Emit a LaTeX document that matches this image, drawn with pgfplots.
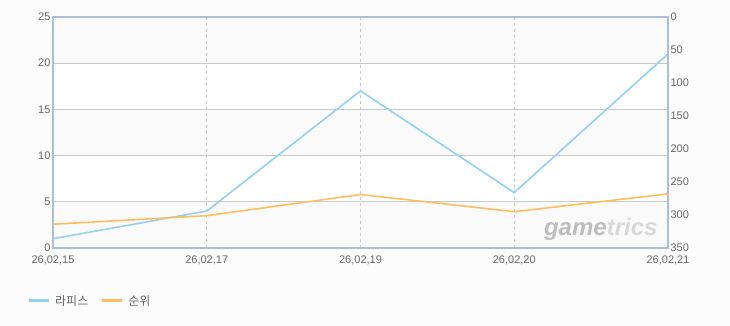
\documentclass[border=0pt]{standalone}
\usepackage{pgfplots}
\pgfplotsset{compat=1.18}
\usepackage{fontspec}
\setmainfont{Liberation Sans}
\newfontfamily\kr{Noto Sans CJK KR}
\definecolor{frame}{HTML}{AABED4}
\definecolor{bg}{HTML}{FCFCFC}
\definecolor{band}{HTML}{FAFAFA}
\definecolor{bluel}{HTML}{94D1F1}
\definecolor{orangel}{HTML}{FFBE5E}
\definecolor{ticktxt}{HTML}{666666}
\definecolor{gridc}{HTML}{C8C8C8}
\begin{document}
\begin{tikzpicture}
\fill[bg] (-53pt,-77pt) rectangle (677pt,248pt);
\useasboundingbox (-53pt,-77pt) rectangle (677pt,248pt);
\fill[white] (0,0) rectangle (615pt,231pt);
\foreach \b in {0,2,4} {\fill[band] (0pt,{\b*46.2pt}) rectangle (615pt,{(\b+1)*46.2pt});}
\node[font=\fontsize{24}{24}\selectfont\bfseries\itshape, anchor=east] at (608pt,19pt) {\textcolor[HTML]{BDBDBD}{game}\textcolor[HTML]{D8D8D8}{trics}};
\begin{axis}[
  at={(0,0)}, anchor=south west, scale only axis,
  width=615pt, height=231pt,
  xmin=0, xmax=4, ymin=0, ymax=25,
  xtick={0,1,2,3,4},
  xticklabels={{26,02,15},{26,02,17},{26,02,19},{26,02,20},{26,02,21}},
  ytick={0,5,10,15,20,25},
  major tick length=0pt,
  axis line style={draw=frame, line width=1.6pt},
  xmajorgrids, ymajorgrids,
  x grid style={dashed, gridc, line width=0.6pt},
  y grid style={gridc, line width=0.8pt},
  ticklabel style={font=\fontsize{11}{12}\selectfont, text=ticktxt},
  /pgf/number format/assume math mode=true,
  xticklabel style={yshift=-4pt},
  yticklabel style={xshift=1pt},
]
\addplot[bluel, line width=1.6pt] coordinates {(0,1) (1,4) (2,17) (3,6) (4,21)};
\end{axis}
\begin{axis}[
  at={(0,0)}, anchor=south west, scale only axis,
  width=615pt, height=231pt,
  xmin=0, xmax=4, ymin=0, ymax=350, y dir=reverse,
  axis y line*=right, axis x line=none,
  ytick={0,50,...,350},
  major tick length=0pt,
  axis line style={draw=frame, line width=1.6pt},
  ticklabel style={font=\fontsize{11}{12}\selectfont, text=ticktxt},
  /pgf/number format/assume math mode=true,
  yticklabel style={xshift=-1pt},
  legend columns=2,
  legend image code/.code={\draw[#1, line width=3pt] (0pt,0pt) -- (20pt,0pt);},
  legend style={at={(0,0)}, anchor=north west, xshift=-29pt, yshift=-43pt,
    draw=none, fill=none, font=\kr\fontsize{12}{14}\selectfont, text=ticktxt,
    /tikz/every odd column/.append style={column sep=3pt},
    /tikz/every even column/.append style={column sep=10pt}},
]
\addlegendimage{bluel}
\addlegendentry{라피스}
\addplot[orangel, line width=1.6pt] coordinates {(0,314) (1,301) (2,269) (3,295) (4,268)};
\addlegendentry{순위}
\end{axis}
\end{tikzpicture}
\end{document}
